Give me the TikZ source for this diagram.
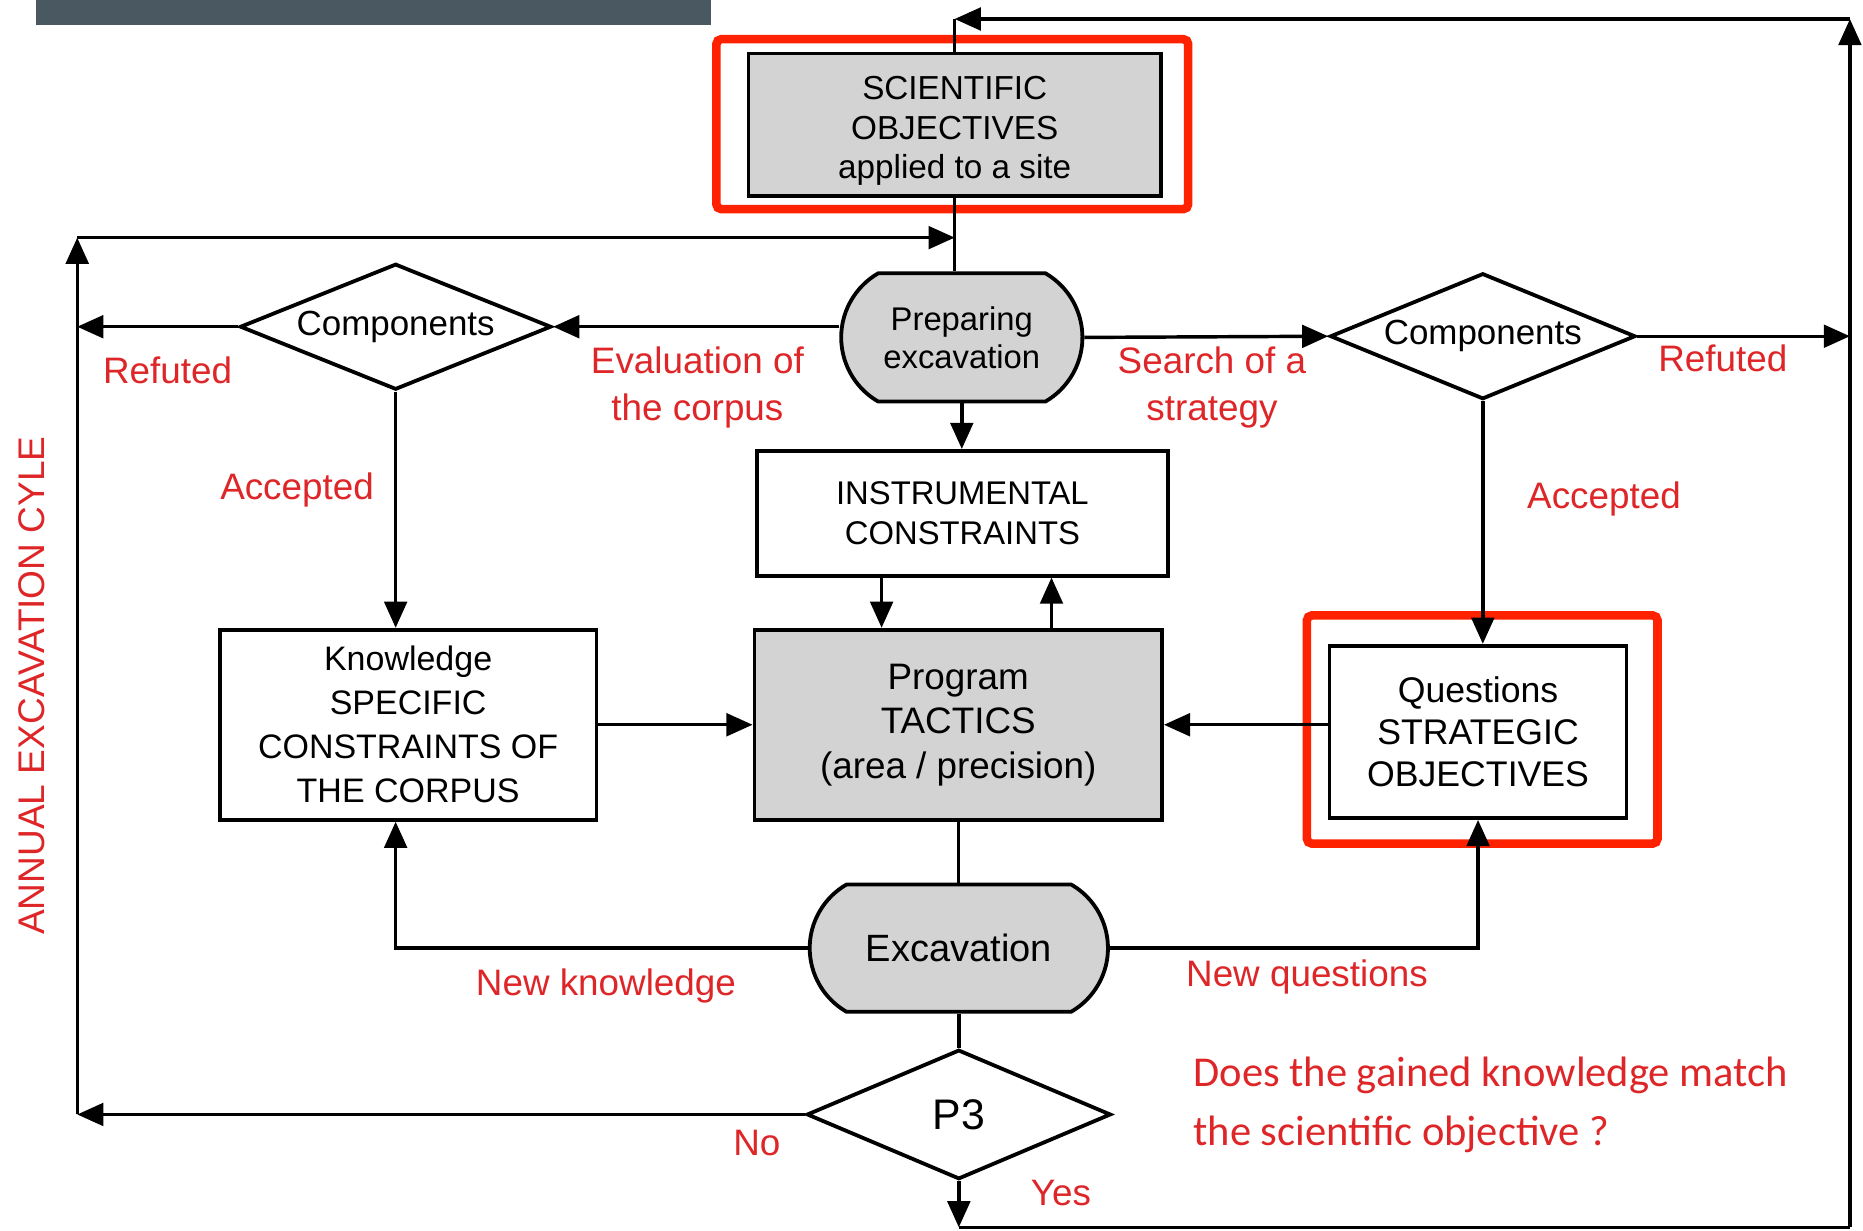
\documentclass[tikz,border=0pt]{standalone}
\usepackage{fontspec}
\setmainfont{Liberation Sans}
\newfontfamily\calibri{Carlito}
\usetikzlibrary{arrows.meta,shapes.geometric,shapes.misc,calc}

\definecolor{lblred}{RGB}{222,38,40}
\definecolor{hlred}{RGB}{255,34,0}
\definecolor{boxgray}{RGB}{211,211,211}
\definecolor{barslate}{RGB}{74,89,97}

\newcommand{\fs}[2]{\fontsize{#1}{#2}\selectfont}

\begin{document}
\begin{tikzpicture}[x=0.5pt,y=-0.5pt,
  line width=1.45pt,
  >={Triangle[length=11pt,width=9.5pt]},
  box/.style={draw, rectangle, inner sep=0pt, align=center, line width=1.6pt},
  greybox/.style={box, fill=boxgray},
  term/.style={draw, fill=boxgray, rounded rectangle, rounded rectangle arc length=120,
               inner sep=0pt, align=center, line width=1.6pt},
  decision/.style={draw, diamond, aspect=2.45, inner sep=0pt, align=center, line width=1.6pt},
  lbl/.style={text=lblred, font=\fs{15.5}{20}, align=center, inner sep=0pt},
  highlight/.style={draw=hlred, line width=3.6pt, rounded corners=2pt},
]
\useasboundingbox (0,0) rectangle (1568,1036);

% title bar remnant
\fill[barslate] (30,0) rectangle (598,21);

% ---- nodes ----
\node[greybox, minimum width=173.5pt, minimum height=60pt, font=\fs{14}{16.5}]
  (sci) at (803.5,105) {\rule{0pt}{15pt}SCIENTIFIC\\OBJECTIVES\\applied to a site};
\node[term, minimum width=101.5pt, minimum height=54pt, font=\fs{13.8}{16}]
  (prep) at (809.5,284) {Preparing\\excavation};
\node[decision, minimum width=131pt, minimum height=53pt, font=\fs{14.7}{17}]
  (ldia) at (333,275) {Components};
\node[decision, minimum width=128.5pt, minimum height=53pt, font=\fs{14.7}{17}]
  (rdia) at (1248,283) {Components};
\node[box, minimum width=173pt, minimum height=52.5pt, font=\fs{13.8}{17}]
  (instr) at (810,432) {INSTRUMENTAL\\CONSTRAINTS};
\node[greybox, minimum width=171.5pt, minimum height=80pt, font=\fs{15.5}{18.7}]
  (prog) at (806.5,610) {Program\\TACTICS\\(area / precision)};
\node[box, minimum width=158.5pt, minimum height=80pt, font=\fs{14.3}{18.5}]
  (know) at (343.5,610) {Knowledge\\SPECIFIC\\CONSTRAINTS OF\\THE CORPUS};
\node[box, minimum width=125pt, minimum height=72.5pt, font=\fs{15}{17.7}]
  (ques) at (1244,616) {Questions\\STRATEGIC\\OBJECTIVES};
\node[term, minimum width=125.5pt, minimum height=53.5pt, font=\fs{16}{19}]
  (exc) at (807,798) {Excavation};
\node[decision, minimum width=128pt, minimum height=54.5pt, font=\fs{18}{20}]
  (p3) at (807,938) {P3};

% highlight frames
\draw[highlight] (603,33) rectangle (1000,176);
\draw[highlight] (1100,518) rectangle (1395,710);

% ---- corner points of the loops ----
\coordinate (bm) at (807,1033);
\coordinate (br) at (1557,1033);
\coordinate (tr) at (1557,16);
\coordinate (tm) at (803.5,16);
\coordinate (ll) at (65,938);
\coordinate (lt) at (65,200);

% outer loop (Yes)
\draw[->] (p3.south) -- (bm);
\draw (bm) -- (br);
\draw[->] (br) -- (tr);
\draw[->] (tr) -- (tm);
\draw (tm) -- (sci.north);
\draw (sci.south) -- (sci.south |- prep.north);

% inner loop (No)
\draw[->] (p3.west) -- (ll);
\draw[->] (ll) -- (lt);
\draw[->] (lt) -- (lt -| sci.south);

% corpus branch
\draw[->] (prep.west |- ldia.east) -- (ldia.east);
\draw[->] (ldia.west) -- (ldia.west -| ll);
\draw[->] (ldia.south) -- (ldia.south |- know.north);

% strategy branch
\draw[->] (prep.east) -- (rdia.west);
\draw[->] (rdia.east) -- (rdia.east -| br);
\draw[->] (rdia.south) -- (rdia.south |- ques.north);

% centre column
\draw[->] (prep.south) -- (prep.south |- instr.north);
\draw[->] ([xshift=-34pt]instr.south) -- ([xshift=-34pt]instr.south |- prog.north);
\draw[->] ([xshift=37.5pt]instr.south |- prog.north) -- ([xshift=37.5pt]instr.south);
\draw[->] (know.east) -- (prog.west);
\draw[->] (ques.west |- prog.east) -- (prog.east);
\draw (prog.south) -- (prog.south |- exc.north);
\draw[->] (exc.west) -| (know.south -| ldia.south);
\draw[->] (exc.east) -| (ques.south);
\draw (exc.south) -- (p3.north);

% ---- labels ----
\node[lbl] (refL) at (141,312) {Refuted};
\node[lbl] (accL) at (250,412) {Accepted};
\node[lbl] (evalC) at (587,326) {Evaluation of\\the corpus};
\node[lbl] (search) at (1020,326) {Search of a\\strategy};
\node[lbl] (refR) at (1450,302) {Refuted};
\node[lbl] (accR) at (1350,420) {Accepted};
\node[lbl] (newK) at (510,830) {New knowledge};
\node[lbl] (newQ) at (1100,822) {New questions};
\node[lbl] (no) at (637,962) {No};
\node[lbl] (yes) at (893,1004) {Yes};
\node[lbl, font=\fs{15.6}{18}, rotate=90] (cycle) at (27,577) {ANNUAL EXCAVATION CYLE};
\node[text=lblred, font=\calibri\fs{17.9}{24.5}, align=left, anchor=west, inner sep=0pt]
  (question) at (1003,930) {Does the gained knowledge match\\the scientific objective ?};
\end{tikzpicture}
\end{document}
